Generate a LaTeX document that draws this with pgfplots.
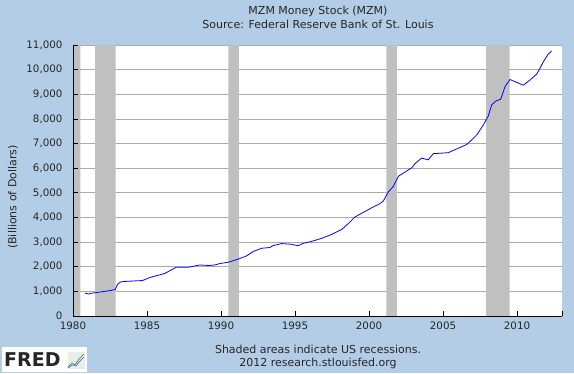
\documentclass[border=0pt]{standalone}
\usepackage{pgfplots}
\pgfplotsset{compat=1.18}
\usepackage{fontspec}
\setmainfont{DejaVu Sans}
\definecolor{fredbg}{RGB}{180,205,230}
\definecolor{recgray}{RGB}{192,192,192}
\definecolor{gridgray}{RGB}{170,170,170}
\pgfplotsset{fredbase/.style={
  at={(73pt,57pt)}, anchor=south west,
  scale only axis, width=489pt, height=271pt,
  xmin=1980, xmax=2013.04, ymin=0, ymax=11000,
  xtick={1980,1985,...,2010},
  ytick={0,1000,...,11000},
  scaled y ticks=false,
}}
\begin{document}
\begin{tikzpicture}
\fill[fredbg] (0pt,0pt) rectangle (574pt,373pt);
\begin{axis}[fredbase,
  axis line style={draw=none},
  tick style={draw=none},
  major tick length=0pt,
  axis background/.style={fill=white},
  ymajorgrids, grid style={gridgray, line width=0.8pt},
  xticklabels={}, yticklabels={},
]
\addplot[draw=none] coordinates {(1980,0)(2013,11000)};
\end{axis}
\begin{axis}[fredbase,
  axis on top,
  axis lines*=left,
  axis line style={black, line width=0.8pt},
  extra x ticks={2013.04}, extra x tick labels={},
  tick align=inside,
  major tick length=5pt,
  tick style={black, line width=0.8pt},
  xticklabel style={yshift=-2pt},
  yticklabel style={xshift=-7pt},
  x tick label style={/pgf/number format/1000 sep={}},
  y tick label style={/pgf/number format/1000 sep={,}},
  /pgf/number format/assume math mode=true,
  tick label style={font=\fontsize{10.3}{12}\selectfont, text=black!85},
]
\addplot[fill=recgray, draw=none] coordinates {(1980,0)(1980,11000)(1980.5,11000)(1980.5,0)} \closedcycle;
\addplot[fill=recgray, draw=none] coordinates {(1981.5,0)(1981.5,11000)(1982.88,11000)(1982.88,0)} \closedcycle;
\addplot[fill=recgray, draw=none] coordinates {(1990.5,0)(1990.5,11000)(1991.2,11000)(1991.2,0)} \closedcycle;
\addplot[fill=recgray, draw=none] coordinates {(2001.17,0)(2001.17,11000)(2001.88,11000)(2001.88,0)} \closedcycle;
\addplot[fill=recgray, draw=none] coordinates {(2007.92,0)(2007.92,11000)(2009.5,11000)(2009.5,0)} \closedcycle;
\addplot[blue, line width=0.8pt] coordinates {
(1980.81,930)(1981.06,890)(1981.2,920)(1981.8,970)(1982.6,1040)(1982.86,1080)
(1983.0,1280)(1983.2,1375)(1983.4,1400)(1984.7,1440)(1985.2,1565)(1985.86,1670)
(1986.2,1725)(1986.53,1835)(1986.98,1980)(1987.8,1980)(1988.56,2070)(1989.2,2050)
(1989.57,2070)(1989.93,2130)(1990.5,2185)(1991.17,2310)(1991.73,2440)(1992.18,2620)
(1992.75,2750)(1993.3,2780)(1993.53,2860)(1994.1,2940)(1994.78,2910)(1995.2,2850)
(1995.56,2950)(1996.0,3010)(1996.69,3130)(1997.36,3280)(1998.15,3510)(1998.6,3750)
(1999.05,4020)(1999.6,4200)(2000.3,4430)(2000.74,4560)(2000.97,4670)(2001.3,5030)
(2001.64,5260)(2001.98,5670)(2002.32,5800)(2002.9,6020)(2003.1,6180)(2003.56,6410)
(2004.0,6340)(2004.35,6590)(2004.9,6610)(2005.36,6630)(2005.92,6780)(2006.6,6960)
(2006.94,7150)(2007.28,7350)(2007.72,7750)(2008.06,8120)(2008.29,8570)(2008.58,8730)
(2008.9,8800)(2009.19,9310)(2009.53,9600)(2009.98,9480)(2010.43,9370)(2010.88,9580)
(2011.33,9820)(2011.55,10050)(2011.78,10320)(2012.11,10630)(2012.34,10750)
};
\end{axis}
\begin{scope}[every node/.style={font=\fontsize{11}{13}\selectfont, text=black!85}]
\node at (318pt,362pt) {MZM Money Stock (MZM)};
\node at (318pt,349pt) {Source: Federal Reserve Bank of St. Louis};
\node[rotate=90] at (13pt,176pt) {(Billions of Dollars)};
\node at (318pt,24pt) {Shaded areas indicate US recessions.};
\node at (318pt,10pt) {2012 research.stlouisfed.org};
\end{scope}
% FRED logo
\fill[white] (2pt,1pt) rectangle (87pt,26pt);
\node[anchor=west, inner sep=0pt, font=\fontsize{19}{20}\selectfont\bfseries, text=black!85] at (4pt,13pt) {FRED};
\fill[black!8] (68pt,4pt) rectangle (85pt,21pt);
\draw[green!60!black, line width=0.6pt] (68pt,6pt) -- (72pt,10pt) -- (75pt,8pt) -- (79pt,14pt) -- (84pt,19pt);
\draw[blue!70, line width=0.6pt] (68pt,5pt) -- (72pt,8pt) -- (76pt,7pt) -- (80pt,12pt) -- (84pt,16pt);
\end{tikzpicture}
\end{document}
